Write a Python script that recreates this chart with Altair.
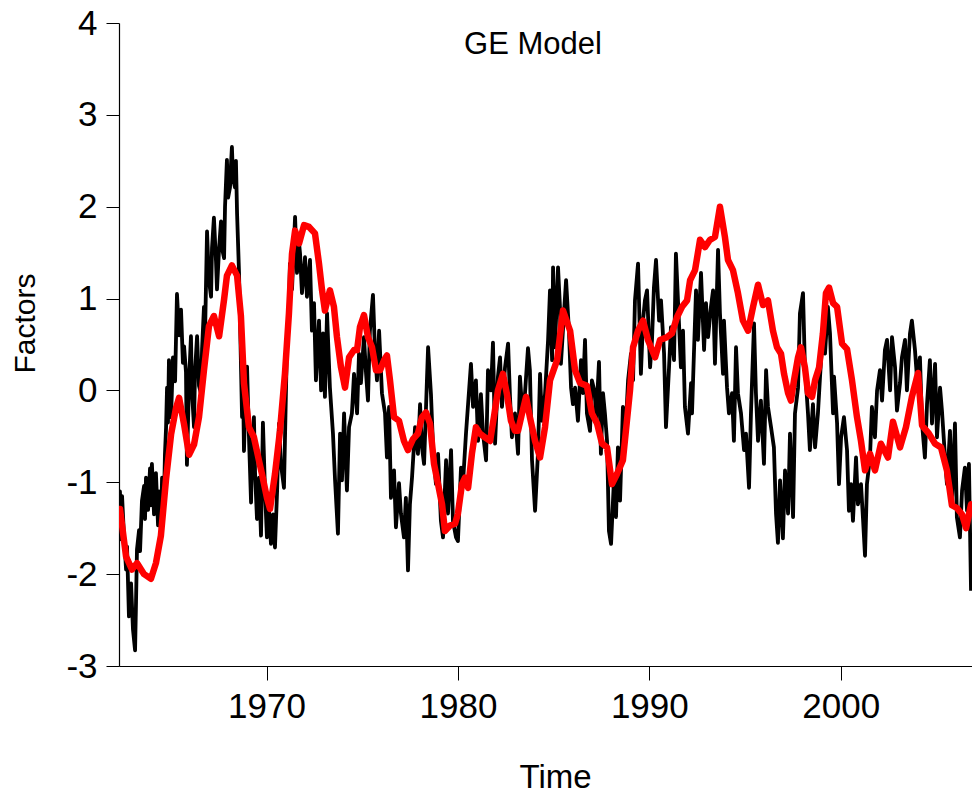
import altair as alt
import pandas as pd

# Black series (noisy factor), decimal years and values
black_year = [
    1962.29, 1962.34, 1962.40, 1962.45, 1962.55, 1962.66, 1962.71, 1962.81, 1962.92, 1963.02,
    1963.13, 1963.18, 1963.23, 1963.34, 1963.39, 1963.49, 1963.60, 1963.65, 1963.70, 1963.81,
    1963.91, 1963.96, 1964.01, 1964.12, 1964.22, 1964.33, 1964.38, 1964.48, 1964.54, 1964.64,
    1964.69, 1964.75, 1964.80, 1964.85, 1964.90, 1965.01, 1965.11, 1965.22, 1965.32, 1965.43,
    1965.53, 1965.63, 1965.69, 1965.79, 1965.84, 1965.95, 1966.05, 1966.10, 1966.21, 1966.26,
    1966.37, 1966.47, 1966.57, 1966.63, 1966.73, 1966.78, 1966.89, 1966.99, 1967.10, 1967.15,
    1967.25, 1967.36, 1967.41, 1967.52, 1967.62, 1967.67, 1967.78, 1967.83, 1967.93, 1967.99,
    1968.09, 1968.14, 1968.19, 1968.25, 1968.35, 1968.40, 1968.46, 1968.56, 1968.61, 1968.72,
    1968.77, 1968.82, 1968.87, 1968.98, 1969.08, 1969.19, 1969.24, 1969.34, 1969.40, 1969.50,
    1969.61, 1969.71,
    1969.81, 1969.92, 1970.02, 1970.13, 1970.23, 1970.34, 1970.44, 1970.55, 1970.65, 1970.75,
    1970.91, 1970.96, 1971.07, 1971.17, 1971.22, 1971.33, 1971.49, 1971.59, 1971.70, 1971.75,
    1971.85, 1972.01, 1972.11, 1972.27, 1972.37, 1972.48, 1972.58, 1972.74, 1972.85, 1972.95,
    1973.05, 1973.16, 1973.31, 1973.47, 1973.58, 1973.73, 1973.84, 1973.94, 1974.05, 1974.20,
    1974.31, 1974.46, 1974.57, 1974.73, 1974.83, 1974.93, 1975.09, 1975.20, 1975.30, 1975.40,
    1975.56, 1975.67, 1975.77, 1975.88, 1976.03, 1976.19, 1976.29, 1976.40, 1976.50, 1976.66,
    1976.76, 1976.92, 1977.02, 1977.18,
    1977.28, 1977.39, 1977.49, 1977.60, 1977.76, 1977.91, 1978.02, 1978.12, 1978.23, 1978.38,
    1978.44, 1978.59, 1978.70, 1978.85, 1978.96, 1979.11, 1979.22, 1979.38, 1979.48, 1979.64,
    1979.74, 1979.90, 1980.00, 1980.16, 1980.26, 1980.42, 1980.53, 1980.68, 1980.79, 1980.94,
    1981.05, 1981.20, 1981.31, 1981.47, 1981.57, 1981.73, 1981.83, 1981.94, 1982.09, 1982.20,
    1982.30, 1982.46, 1982.62, 1982.72, 1982.82, 1982.98, 1983.14, 1983.24, 1983.35, 1983.50,
    1983.66, 1983.76, 1983.87, 1984.03, 1984.18, 1984.29, 1984.39, 1984.55, 1984.71,
    1984.81, 1984.92, 1984.97, 1985.07, 1985.23, 1985.33, 1985.38, 1985.54, 1985.65, 1985.80,
    1985.91, 1986.01, 1986.12, 1986.27, 1986.43, 1986.53, 1986.64, 1986.74, 1986.90, 1987.00,
    1987.16, 1987.21, 1987.37, 1987.47, 1987.58, 1987.68, 1987.79, 1987.89, 1988.00, 1988.15,
    1988.26, 1988.36, 1988.47, 1988.62, 1988.73, 1988.89, 1989.04, 1989.15, 1989.25, 1989.41,
    1989.56, 1989.67, 1989.77, 1989.88, 1990.04, 1990.14, 1990.24, 1990.35, 1990.51, 1990.61,
    1990.77, 1990.87, 1991.03, 1991.13, 1991.29, 1991.39, 1991.55, 1991.65, 1991.76, 1991.86,
    1992.02,
    1992.18, 1992.23, 1992.33, 1992.44, 1992.54, 1992.70, 1992.86, 1992.96, 1993.07, 1993.22,
    1993.33, 1993.43, 1993.59, 1993.69, 1993.85, 1993.90, 1994.06, 1994.16, 1994.32, 1994.42,
    1994.53, 1994.63, 1994.79, 1994.95, 1995.05, 1995.21, 1995.31, 1995.47, 1995.57, 1995.68,
    1995.83, 1995.99, 1996.10, 1996.20, 1996.36, 1996.51, 1996.62, 1996.72, 1996.83, 1996.98,
    1997.09, 1997.25, 1997.35, 1997.51, 1997.61, 1997.77, 1997.87, 1998.03, 1998.13, 1998.29,
    1998.39, 1998.55, 1998.66, 1998.81, 1998.92, 1999.07, 1999.18, 1999.33, 1999.44, 1999.60,
    1999.65, 1999.81, 1999.91, 2000.02, 2000.17, 2000.33, 2000.43, 2000.54, 2000.64, 2000.80,
    2000.90, 2001.06, 2001.16, 2001.27, 2001.37, 2001.53, 2001.63, 2001.79, 2001.90, 2002.05,
    2002.16, 2002.31, 2002.42, 2002.58, 2002.68, 2002.84, 2002.94, 2003.10, 2003.20, 2003.36,
    2003.46, 2003.62, 2003.72, 2003.88, 2003.98, 2004.14, 2004.25, 2004.40, 2004.51, 2004.66,
    2004.77, 2004.93, 2005.03, 2005.19, 2005.29, 2005.45, 2005.55, 2005.71, 2005.81, 2005.97,
    2006.07, 2006.23, 2006.34, 2006.49, 2006.60, 2006.70, 2006.81,
]
black_value = [
    -1.35, -1.10, -1.62, -1.15, -1.58, -1.95, -1.70, -2.46, -2.10, -2.60,
    -2.83, -2.30, -1.73, -1.52, -1.75, -1.20, -1.04, -1.40, -0.95, -1.30,
    -0.85, -1.25, -0.80, -1.35, -0.90, -1.47, -1.10, -1.52, -0.95, -1.20,
    -0.70, -0.40, 0.03, -0.35, 0.33, -0.29, 0.36, 0.10, 1.05, 0.60,
    0.88, 0.30, 0.48, 0.20, -0.81, 0.10, 0.59, 0.00, -0.40, 0.20,
    0.59, 0.05, -0.03, 0.45, 0.91, 0.55, 1.73, 1.20, 1.02, 1.55,
    1.88, 1.40, 1.10, 1.55, 1.84, 1.55, 1.44, 2.00, 2.51, 2.10,
    2.21, 2.45, 2.65, 2.30, 2.21, 2.50, 1.92, 1.29, 0.80, -0.29,
    0.10, -0.66, -0.30, 0.26, -0.50, -1.22, -0.70, -0.29, -0.90, -1.40,
    -0.95, -1.58,
    -0.35, -1.10, -1.60, -1.30, -1.67, -1.35, -1.71, -1.10, -0.36, -0.80,
    -1.06, -0.55, 0.55, 0.90, 1.38, 1.10, 1.89, 1.28, 1.60, 1.49,
    1.06, 1.45, 1.02, 1.42, 0.65, 0.95, 0.11, 0.76, 0.00, 0.62,
    -0.07, 0.84, 0.03, -0.47, -0.98, -1.56, -0.47, -0.98, -0.25, -1.09,
    -0.40, -0.25, 0.18, -0.25, 0.40, 0.08, 0.58, 0.18, -0.11, 0.65,
    1.04, 0.40, 0.11, 0.65, -0.03, -0.25, -0.73, -0.18, -1.17, -0.87,
    -1.49, -1.01, -1.34, -1.60,
    -1.17, -1.96, -1.24, -0.95, -0.40, -0.69, -0.15, -0.62, -0.80, 0.11,
    0.47, -0.04, -0.62, -1.02, -0.69, -1.42, -1.60, -0.76, -1.34, -0.65,
    -1.42, -1.60, -1.64, -0.84, -1.02, -0.47, -0.15, 0.29, -0.18, 0.11,
    -0.55, -0.04, -0.47, -0.76, 0.22, 0.00, 0.52, -0.58, 0.15, 0.36,
    -0.18, 0.25, 0.51, -0.07, -0.51, -0.25, -0.69, 0.15, -0.18, -0.04,
    0.46, 0.22, -0.76, -1.31, -0.69, 0.18, -0.33, -0.04, 0.55,
    1.09, 0.33, 1.34, 0.47, 1.34, 0.91, 0.29, 0.84, 1.20, 0.65,
    0.03, -0.15, 0.03, -0.33, 0.33, -0.03, 0.55, -0.25, -0.44, 0.11,
    -0.03, -0.36, 0.31, -0.69, -0.03, -0.25, -0.55, -1.53, -1.67, -0.98,
    -1.38, -0.62, -1.20, -0.18, -0.55, 0.11, 0.40, 0.11, 0.98, 1.38,
    0.18, 0.76, 0.98, 1.09, 0.25, 0.55, 1.12, 1.42, 0.76, 0.98,
    0.40, -0.40, 0.25, 0.69, 0.33, 1.49, 0.73, 0.25, 0.65, -0.18,
    -0.47,
    0.08, -0.25, 0.40, 1.09, 0.55, 1.28, 0.44, 0.95, 0.58, 0.91,
    1.09, 0.29, 1.53, 0.84, 0.18, 0.76, 0.03, -0.25, -0.03, -0.55,
    0.47, -0.03, -0.25, -0.65, -0.47, -1.06, -0.25, 0.73, -0.03, -0.55,
    -0.11, -0.80, 0.22, -0.18, -0.40, -0.62, -1.34, -1.66, -0.98, -1.61,
    -0.87, -1.34, -0.47, -1.38, -0.25, 0.03, 0.84, 1.06, 0.25, -0.25,
    -0.65, -0.15, -0.62, -0.25, 0.15, 0.65, 0.40, 0.91, 0.62, -0.25,
    0.15, -0.36, -1.02, -0.51, -0.29, -0.65, -1.31, -1.02, -1.42, -0.73,
    -1.24, -1.02, -1.38, -1.80, -1.02, -0.73, -0.18, -0.51, 0.00, 0.22,
    -0.11, 0.44, 0.55, 0.00, 0.58, 0.25, -0.22, 0.08, 0.36, 0.55,
    0.00, 0.62, 0.76, 0.44, 0.15, 0.36, -0.36, -0.73, -0.15, 0.33,
    -0.36, 0.29, -0.51, 0.03, -0.22, -0.73, -1.02, -0.44, -1.24, -0.36,
    -1.38, -1.60, -1.09, -0.84, -1.31, -0.80, -2.18,
]

# Red series (smooth factor)
red_year = [
    1962.34, 1962.66, 1962.97, 1963.23, 1963.60, 1963.96, 1964.22, 1964.48, 1964.75, 1965.01,
    1965.27, 1965.43, 1965.69, 1965.95, 1966.21, 1966.47, 1966.73, 1966.99, 1967.25, 1967.52,
    1967.78, 1967.93, 1968.19, 1968.46, 1968.66, 1968.82, 1969.08, 1969.34, 1969.61, 1969.76,
    1970.02, 1970.18, 1970.44, 1970.70, 1970.96, 1971.17, 1971.33, 1971.49, 1971.70, 1971.96,
    1972.22, 1972.53, 1972.74, 1972.90, 1973.05, 1973.31, 1973.52, 1973.68, 1973.89, 1974.10,
    1974.31, 1974.57, 1974.73, 1974.88, 1975.09, 1975.30, 1975.51, 1975.72, 1975.93, 1976.14,
    1976.29, 1976.45, 1976.66, 1976.92, 1977.18, 1977.39, 1977.65, 1977.91, 1978.12, 1978.33,
    1978.54, 1978.75, 1978.96, 1979.17, 1979.32, 1979.59, 1979.85, 1980.00, 1980.21, 1980.37,
    1980.53, 1980.73, 1980.94, 1981.15, 1981.41, 1981.68, 1981.88, 1982.09, 1982.35, 1982.56,
    1982.77, 1982.98, 1983.14, 1983.35, 1983.56, 1983.76, 1984.03, 1984.29, 1984.55, 1984.81,
    1985.18, 1985.49, 1985.86, 1986.12, 1986.38, 1986.74, 1987.00, 1987.27, 1987.53, 1987.79,
    1988.05, 1988.31, 1988.62, 1988.83, 1988.99, 1989.15, 1989.41, 1989.67, 1989.93, 1990.30,
    1990.56, 1990.92, 1991.18, 1991.45, 1991.71, 1991.97, 1992.13, 1992.39, 1992.65, 1992.91,
    1993.17, 1993.43, 1993.69, 1993.95, 1994.11, 1994.37, 1994.63, 1994.89, 1995.16, 1995.42,
    1995.68, 1995.94, 1996.20, 1996.46, 1996.67, 1996.88, 1997.04, 1997.25, 1997.40, 1997.56,
    1997.77, 1997.92, 1998.13, 1998.29, 1998.50, 1998.66, 1998.87, 1999.07, 1999.23, 1999.39,
    1999.60, 1999.81, 2000.07, 2000.33, 2000.59, 2000.85, 2001.06, 2001.27, 2001.53, 2001.79,
    2002.10, 2002.47, 2002.73, 2003.10, 2003.41, 2003.72, 2004.04, 2004.25, 2004.61, 2004.93,
    2005.24, 2005.55, 2005.81, 2006.07, 2006.34, 2006.55, 2006.81,
]
red_value = [
    -1.29, -1.81, -1.95, -1.88, -2.00, -2.05, -1.88, -1.58, -0.96, -0.48,
    -0.19, -0.08, -0.37, -0.70, -0.59, -0.29, 0.22, 0.70, 0.81, 0.59,
    0.99, 1.25, 1.36, 1.25, 0.81, 0.08, -0.40, -0.51, -0.77, -0.91,
    -1.17, -1.29, -0.91, -0.44, 0.18, 0.84, 1.49, 1.74, 1.60, 1.80,
    1.78, 1.71, 1.38, 1.09, 0.87, 1.09, 0.91, 0.58, 0.25, 0.03,
    0.36, 0.44, 0.44, 0.69, 0.82, 0.58, 0.47, 0.22, 0.22, 0.33,
    0.38, 0.11, -0.29, -0.33, -0.55, -0.65, -0.53, -0.47, -0.29, -0.24,
    -0.36, -0.80, -1.02, -1.24, -1.53, -1.47, -1.45, -1.34, -1.02, -0.95,
    -1.06, -0.69, -0.40, -0.47, -0.51, -0.55, -0.29, 0.00, 0.18, -0.04,
    -0.33, -0.44, -0.44, -0.25, -0.07, -0.29, -0.55, -0.73, -0.40, 0.11,
    0.33, 0.87, 0.65, 0.22, 0.08, 0.05, -0.25, -0.36, -0.58, -0.62,
    -1.02, -0.91, -0.76, -0.33, 0.00, 0.47, 0.65, 0.76, 0.55, 0.36,
    0.55, 0.58, 0.62, 0.80, 0.91, 0.98, 1.20, 1.31, 1.64, 1.56,
    1.64, 1.67, 2.00, 1.67, 1.42, 1.31, 1.06, 0.76, 0.65, 0.91,
    1.15, 0.93, 0.98, 0.65, 0.47, 0.40, 0.18, -0.03, -0.11, 0.11,
    0.36, 0.47, 0.25, -0.03, -0.07, 0.11, 0.25, 0.62, 1.06, 1.12,
    0.95, 0.91, 0.51, 0.45, 0.11, -0.29, -0.55, -0.87, -0.69, -0.87,
    -0.58, -0.73, -0.34, -0.62, -0.40, -0.07, 0.19, -0.38, -0.47, -0.58,
    -0.62, -0.87, -1.25, -1.28, -1.35, -1.50, -1.24,
]

black_df = pd.DataFrame({"year": black_year, "value": black_value})
red_df = pd.DataFrame({"year": red_year, "value": red_value})

x_tick_values = [1970, 1980, 1990, 2000]
y_tick_values = [-3, -2, -1, 0, 1, 2, 3, 4]
FONT = "Liberation Sans"

x_scale = alt.Scale(domain=[1962.29, 2006.86], nice=False, zero=False)
y_scale = alt.Scale(domain=[-3, 4], nice=False, zero=False)

x_axis = alt.Axis(
    values=x_tick_values, labelExpr="datum.value + ''", title="Time", grid=False,
    tickSize=14, labelPadding=9, labelFontSize=35, labelFont=FONT,
    titleFont=FONT, titleFontSize=33, titleFontWeight="normal",
    titleBaseline="alphabetic", titleY=121, titleX=436,
    domainColor="black", tickColor="black", labelColor="black", titleColor="black",
    domainWidth=1.2, tickWidth=1, labelFlush=False,
)
y_axis = alt.Axis(
    values=y_tick_values, labelExpr="datum.value + ''", title="Factors", grid=False,
    tickSize=13, labelPadding=9, labelFontSize=35, labelFont=FONT,
    titleFont=FONT, titleFontSize=30, titleFontWeight="normal",
    titleBaseline="middle", titleX=-94, titleY=300,
    domainColor="black", tickColor="black", labelColor="black", titleColor="black",
    domainWidth=1.2, tickWidth=1, labelFlush=False,
)

black = alt.Chart(black_df).mark_line(
    color="#000000", strokeWidth=3.8, clip=True, strokeJoin="round"
).encode(
    x=alt.X("year:Q", scale=x_scale, axis=x_axis),
    y=alt.Y("value:Q", scale=y_scale, axis=y_axis),
)
red = alt.Chart(red_df).mark_line(
    color="#ff0000", strokeWidth=6.5, clip=True, strokeJoin="round", strokeCap="round"
).encode(
    x=alt.X("year:Q", scale=x_scale),
    y=alt.Y("value:Q", scale=y_scale),
)
title = alt.Chart(pd.DataFrame({"t": ["GE Model"]})).mark_text(
    font=FONT, fontSize=31, color="black", align="center", baseline="middle"
).encode(text="t:N", x=alt.value(414), y=alt.value(22))

chart = alt.layer(black, red, title).properties(
    width=853, height=643,
    autosize=alt.AutoSizeParams(type="none"),
    padding={"left": 119, "top": 23, "right": 0, "bottom": 131},
).configure_view(stroke=None)

chart.save("out.html", embed_options={"renderer": "svg", "actions": False})
